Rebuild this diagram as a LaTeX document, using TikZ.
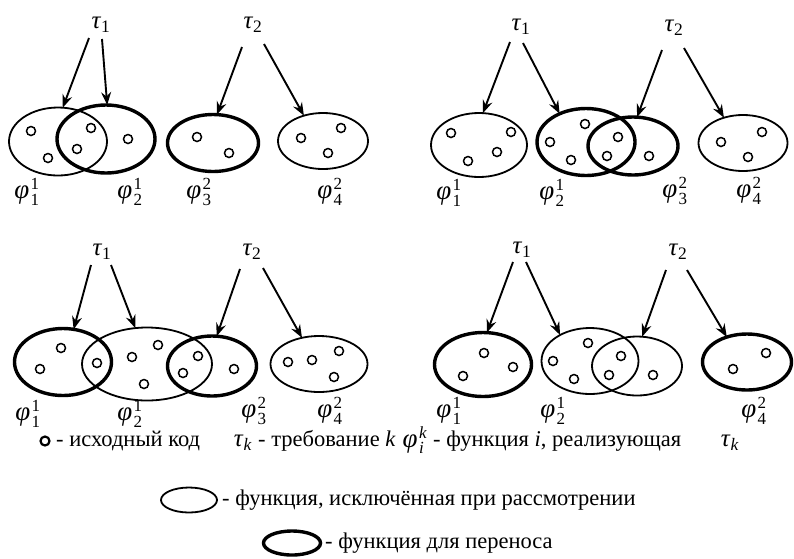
\documentclass[tikz,border=0pt]{standalone}
\usepackage{fontspec}
\setmainfont{Liberation Serif}
\usetikzlibrary{arrows.meta,shapes.geometric,calc}
\newcommand{\tk}[1]{\textit{τ}\textsubscript{#1}}
\newcommand{\fk}[2]{$\mbox{\textit{φ}\kern1.5pt}^{\mbox{\fontsize{17}{17}\selectfont #2}}_{\mbox{\fontsize{17}{17}\selectfont #1}}$}
\begin{document}
\begin{tikzpicture}[x=1pt,y=-1pt,
  ell/.style={ellipse,draw,inner sep=0pt,outer sep=0pt},
  thn/.style={ell,line width=1.8pt},
  thk/.style={ell,line width=3.4pt},
  dot/.style={circle,draw,line width=1.5pt,minimum size=9pt,inner sep=0pt},
  tlbl/.style={font=\fontsize{25}{27}\selectfont,inner sep=0pt},
  lbl/.style={font=\fontsize{27}{29}\selectfont,inner sep=0pt},
  arr/.style={line width=1.9pt,-{Stealth[length=13pt,width=10pt,inset=4.5pt]}},
  txt/.style={font=\fontsize{22.5}{24}\selectfont,inner sep=0pt,anchor=west}]
\useasboundingbox (0,0) rectangle (794,558);

% ---------- panel 1 ----------
\node[tlbl] (t11) at (101,25) {\tk{1}};
\node[tlbl] (t12) at (253,25) {\tk{2}};
\node[thn,minimum width=98pt,minimum height=68pt] (e11) at (58,141.5) {};
\node[thk,minimum width=98pt,minimum height=68pt] (e12) at (106,139) {};
\node[thk,minimum width=91pt,minimum height=57pt] (e13) at (213,143) {};
\node[thn,minimum width=90pt,minimum height=56pt] (e14) at (323,141) {};
\draw[arr] ($(t11)+(-12,13)$) -- (e11.82);
\draw[arr] ($(t11)+(1,14)$) -- (e12.88);
\draw[arr] ($(t12)+(-11,22)$) -- (e13.82);
\draw[arr] ($(t12)+(11,19)$) -- (e14.127);
\foreach \p [count=\i] in {(31,131),(48,158),(77,149),(91,128),(128,139),(197,137),(229,153),(301,138),(341,128),(328,153)}
  \node[dot] (c1-\i) at \p {};
\node[lbl] (f11) at (27,192) {\fk{1}{1}};
\node[lbl] (f12) at (130,192) {\fk{2}{1}};
\node[lbl] (f13) at (199,192) {\fk{3}{2}};
\node[lbl] (f14) at (330,192) {\fk{4}{2}};

% ---------- panel 2 ----------
\node[tlbl] (t21) at (521,27) {\tk{1}};
\node[tlbl] (t22) at (674,28) {\tk{2}};
\node[thn,minimum width=96pt,minimum height=64pt] (e21) at (479,145) {};
\node[thk,minimum width=98pt,minimum height=67pt] (e22) at (586,142) {};
\node[thk,minimum width=90pt,minimum height=58pt] (e23) at (633,146) {};
\node[thn,minimum width=89pt,minimum height=56pt] (e24) at (743,143) {};
\draw[arr] ($(t21)+(-11,15)$) -- (e21.83);
\draw[arr] ($(t21)+(2,16)$) -- (e22.133);
\draw[arr] ($(t22)+(-12,22)$) -- (e23.82);
\draw[arr] ($(t22)+(10,20)$) -- (e24.127);
\foreach \p [count=\i] in {(451,133),(468,161),(497,152),(511,132),(550,142),(571,160),(585,124),(618,137),(607,156),(649,156),(721,142),(762,132),(748,157)}
  \node[dot] (c2-\i) at \p {};
\node[lbl] (f21) at (449,193) {\fk{1}{1}};
\node[lbl] (f22) at (552,193) {\fk{2}{1}};
\node[lbl] (f23) at (675,191) {\fk{3}{2}};
\node[lbl] (f24) at (749,191) {\fk{4}{2}};

% ---------- panel 3 ----------
\node[tlbl] (t31) at (102,252) {\tk{1}};
\node[tlbl] (t32) at (252,252) {\tk{2}};
\node[thk,minimum width=97pt,minimum height=67pt] (e31) at (63,362) {};
\node[thn,minimum width=130pt,minimum height=73pt] (e32) at (147,364) {};
\node[thk,minimum width=89pt,minimum height=60pt] (e33) at (212,366) {};
\node[thn,minimum width=97pt,minimum height=56pt] (e34) at (319,364) {};
\draw[arr] ($(t31)+(-11,13)$) -- (e31.72);
\draw[arr] ($(t31)+(9,13)$) -- (e32.108);
\draw[arr] ($(t32)+(-12,17)$) -- (e33.81);
\draw[arr] ($(t32)+(11,16)$) -- (e34.123);
\foreach \p [count=\i] in {(40,369),(61,348),(97,363),(132,357),(158,345),(144,384),(198,356),(183,373),(234,369),(288,362),(312,360),(339,351),(334,377)}
  \node[dot] (c3-\i) at \p {};
\node[lbl] (f31) at (28,414) {\fk{1}{1}};
\node[lbl] (f32) at (130,414) {\fk{2}{1}};
\node[lbl] (f33) at (254,411) {\fk{3}{2}};
\node[lbl] (f34) at (330,411) {\fk{4}{2}};

% ---------- panel 4 ----------
\node[tlbl] (t41) at (522,250) {\tk{1}};
\node[tlbl] (t42) at (678,252) {\tk{2}};
\node[thk,minimum width=97pt,minimum height=64pt] (e41) at (483,364.5) {};
\node[thn,minimum width=97pt,minimum height=66pt] (e42) at (590,361) {};
\node[thn,minimum width=90pt,minimum height=59pt] (e43) at (637,366) {};
\node[thk,minimum width=89pt,minimum height=56pt] (e44) at (747,362) {};
\draw[arr] ($(t41)+(-9,12)$) -- (e41.83);
\draw[arr] ($(t41)+(4,12)$) -- (e42.139);
\draw[arr] ($(t42)+(-12,18)$) -- (e43.80);
\draw[arr] ($(t42)+(9,18)$) -- (e44.129);
\foreach \p [count=\i] in {(463,376),(484,353),(513,367),(553,361),(588,343),(574,379),(621,356),(609,375),(653,375),(733,369),(766,353)}
  \node[dot] (c4-\i) at \p {};
\node[lbl] (f41) at (449,411) {\fk{1}{1}};
\node[lbl] (f42) at (553,411) {\fk{2}{1}};
\node[lbl] (f44) at (754,411) {\fk{4}{2}};

% ---------- legend ----------
\node[dot,line width=2.2pt] (lc) at (45,441) {};
\node[txt] (l1) at (56,441) {- исходный код};
\node[tlbl] (lt) at (243,443) {\tk{\textit{k}}};
\node[txt] (l2) at (258,441) {- требование \textit{k}};
\node[lbl] (lf) at (415,440) {\fk{\textit{i}}{\textit{k}}};
\node[txt] (l3) at (433,441) {- функция \textit{i}, реализующая};
\node[tlbl] (lt2) at (730,443) {\tk{\textit{k}}};
\node[thn,minimum width=56pt,minimum height=25pt] (lg1) at (189,500) {};
\node[txt] (l4) at (222,500) {- функция, исключённая при рассмотрении};
\node[thk,minimum width=57pt,minimum height=24pt] (lg2) at (292,543) {};
\node[txt] (l5) at (325,543) {- функция для переноса};
\end{tikzpicture}
\end{document}
